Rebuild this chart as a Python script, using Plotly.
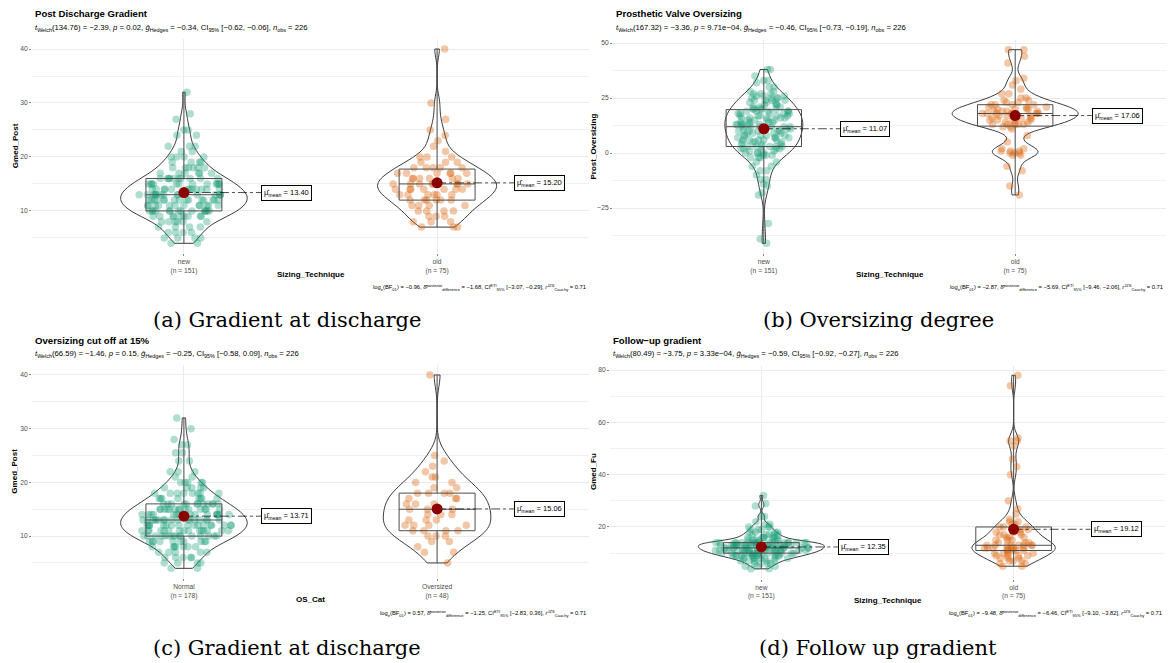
import numpy as np
import plotly.graph_objects as go

# ---------------- data ----------------
panel_titles = ["Post Discharge Gradient", "Prosthetic Valve Oversizing",
                "Oversizing cut off at 15%", "Follow\u2212up gradient"]
x_titles = ["Sizing_Technique", "Sizing_Technique", "OS_Cat", "Sizing_Technique"]
y_titles = ["Gmed_Post", "Prost_Oversizing", "Gmed_Post", "Gmed_Fu"]
categories = [["new", "old"], ["new", "old"], ["Normal", "Oversized"], ["new", "old"]]
group_sizes = [[151, 75], [151, 75], [178, 48], [151, 75]]
subfig_captions = ["(a) Gradient at discharge", "(b) Oversizing degree",
                   "(c) Gradient at discharge", "(d) Follow up gradient"]

gmed_post_new = [
    4, 4, 5, 5, 5, 5, 6, 6, 6, 6, 7, 7, 7, 7, 8, 8, 8, 8, 8, 8,
    9, 9, 9, 9, 9, 9, 9, 9, 9,
    10, 10, 10, 10, 10, 10, 10, 10, 10, 10, 10, 10, 10, 10,
    11, 11, 11, 11, 11, 11, 11, 11, 11, 11, 11, 11,
    12, 12, 12, 12, 12, 12, 12, 12, 12, 12, 12, 12, 12, 12, 12,
    13, 13, 13, 13, 13, 13, 13, 13, 13, 13, 13, 13, 13, 13, 13,
    14, 14, 14, 14, 14, 14, 14, 14, 14, 14, 14, 14,
    15, 15, 15, 15, 15, 15, 15, 15, 15, 15, 15, 15,
    16, 16, 16, 16, 16, 16, 16, 16, 16, 16,
    17, 17, 17, 17, 17, 17,
    18, 18, 18, 18, 18, 18,
    19, 19, 19, 19,
    20, 20, 20, 20,
    21, 21, 22, 22, 22, 24, 24, 25, 25, 27, 28, 32]
gmed_post_old = [
    7, 7, 7, 8, 8, 8, 9, 9, 9, 10, 10, 10, 10, 11, 11, 11, 11,
    12, 12, 12, 12, 12, 12,
    13, 13, 13, 13, 13, 13,
    14, 14, 14, 14, 14, 14, 14,
    15, 15, 15, 15, 15, 15, 15, 15,
    16, 16, 16, 16, 16, 16,
    17, 17, 17, 17, 17, 17,
    18, 18, 18, 18, 18,
    19, 19, 19, 20, 20, 20,
    21, 22, 23, 24, 25, 27, 30, 40]
oversizing_new = [
    -41, -39, -32, -19, -18, -15, -14, -12, -12, -10, -8, -8, -6, -6, -4, -4, -2, -2, -2, -1, -1, -1,
    0, 0, 0, 0, 1, 1, 1, 2, 2, 2, 2,
    3, 3, 3, 3, 3, 3, 4, 4, 4, 5, 5, 5, 5,
    6, 6, 6, 6, 6, 7, 7, 7, 7, 8, 8, 8, 8, 8,
    9, 9, 9, 9, 10, 10, 10, 10, 10, 11, 11, 11, 11,
    12, 12, 12, 12, 12, 12, 13, 13, 13, 13, 13, 13,
    14, 14, 14, 14, 15, 15, 15, 15,
    16, 16, 16, 16, 16, 17, 17, 17, 17, 17,
    18, 18, 18, 18, 18, 19, 19, 19, 19, 19, 20, 20, 20, 20, 20,
    21, 21, 21, 22, 22, 22, 23, 23, 23, 24, 24, 24, 24,
    25, 25, 25, 25, 26, 26, 26, 27, 27, 27, 28, 28,
    30, 30, 32, 33, 33, 35, 38, 38]
oversizing_old = [
    -19, -15, -8, -6, -1, -1, 0, 0, 0, 1, 1, 1, 2, 2, 5, 8, 11, 12, 12,
    13, 13, 13, 13, 13,
    14, 14, 14, 15, 15, 15, 15, 16, 16, 16, 17, 17, 17,
    18, 18, 18, 18, 18, 18, 18,
    19, 19, 19, 19, 20, 20, 20, 20, 21, 21, 21,
    22, 22, 22, 22, 23, 23, 24, 24, 25, 25, 27, 27,
    29, 31, 33, 34, 41, 44, 47, 47]
gmed_post_normal = [
    4, 4, 5, 5, 5, 5, 6, 6, 6, 6, 6, 7, 7, 7, 7, 7,
    8, 8, 8, 8, 8, 8, 8,
    9, 9, 9, 9, 9, 9, 9, 9, 9, 9,
    10, 10, 10, 10, 10, 10, 10, 10, 10, 10, 10, 10, 10, 10, 10,
    11, 11, 11, 11, 11, 11, 11, 11, 11, 11, 11, 11, 11, 11, 11,
    12, 12, 12, 12, 12, 12, 12, 12, 12, 12, 12, 12, 12, 12, 12, 12, 12,
    13, 13, 13, 13, 13, 13, 13, 13, 13, 13, 13, 13, 13, 13, 13, 13, 13,
    14, 14, 14, 14, 14, 14, 14, 14, 14, 14, 14, 14, 14, 14, 14,
    15, 15, 15, 15, 15, 15, 15, 15, 15, 15, 15, 15, 15, 15,
    16, 16, 16, 16, 16, 16, 16, 16, 16, 16, 16, 16,
    17, 17, 17, 17, 17, 17, 17, 17,
    18, 18, 18, 18, 18, 18, 18, 18,
    19, 19, 19, 19, 19, 20, 20, 20, 20, 20,
    21, 21, 22, 22, 22, 24, 24, 25.5, 25.5, 27, 27, 28, 30, 32]
gmed_post_oversized = [
    5, 7, 7, 8, 9, 9, 10, 10, 10, 11, 11, 11, 11, 12, 12, 12, 12,
    13, 13, 13, 14, 14, 14, 15, 15, 15, 15, 16, 16, 16, 17, 17, 17,
    18, 18, 18, 18, 19, 19, 20, 20, 21, 21, 22, 23, 24, 25, 40]
gmed_fu_new = [
    4, 4, 5, 5, 5, 6, 6, 6, 6, 7, 7, 7, 7, 7,
    8, 8, 8, 8, 8, 8, 8, 8,
    9, 9, 9, 9, 9, 9, 9, 9, 9, 9, 9,
    10, 10, 10, 10, 10, 10, 10, 10, 10, 10, 10, 10, 10, 10,
    11, 11, 11, 11, 11, 11, 11, 11, 11, 11, 11, 11, 11, 11, 11, 11,
    12, 12, 12, 12, 12, 12, 12, 12, 12, 12, 12, 12, 12, 12, 12, 12, 12,
    13, 13, 13, 13, 13, 13, 13, 13, 13, 13, 13, 13, 13, 13, 13, 13, 13,
    14, 14, 14, 14, 14, 14, 14, 14, 14, 14, 14, 14, 14, 14, 14, 14, 14, 14,
    15, 15, 15, 15, 15, 15, 15, 16, 16, 16, 16, 16, 16,
    17, 17, 17, 17, 17, 18, 18, 18, 18, 19, 19, 19, 20, 20, 20,
    21, 21, 22, 24, 24, 28, 29, 32]
gmed_fu_old = [
    5, 5, 6, 6, 7, 7, 7, 8, 8, 8, 9, 9, 9, 9, 10, 10, 10, 10,
    11, 11, 11, 11, 11, 12, 12, 12, 12, 12, 12, 12,
    13, 13, 13, 13, 13, 13, 13, 13,
    14, 14, 14, 15, 15, 15, 16, 16, 16, 17, 17, 17, 18, 18, 18,
    19, 19, 20, 20, 20, 21, 21, 22, 22, 23, 25, 27, 30,
    40, 43, 46, 51, 53, 53, 54, 74, 78]

groups = [[gmed_post_new, gmed_post_old], [oversizing_new, oversizing_old],
          [gmed_post_normal, gmed_post_oversized], [gmed_fu_new, gmed_fu_old]]

mean_values = [[13.40, 15.20], [11.07, 17.06], [13.71, 15.06], [12.35, 19.12]]

welch_df = ["134.76", "167.32", "66.59", "80.49"]
welch_t = ["\u22122.39", "\u22123.36", "\u22121.46", "\u22123.75"]
p_values = ["0.02", "9.71e\u221204", "0.15", "3.33e\u221204"]
hedges_g = ["\u22120.34", "\u22120.46", "\u22120.25", "\u22120.59"]
hedges_ci = [("\u22120.62", "\u22120.06"), ("\u22120.73", "\u22120.19"),
             ("\u22120.58", "0.09"), ("\u22120.92", "\u22120.27")]
n_obs = [226, 226, 226, 226]
log_bf01 = ["\u22120.96", "\u22122.87", "0.57", "\u22129.48"]
delta_post = ["\u22121.68", "\u22125.69", "\u22121.25", "\u22126.46"]
delta_ci = [("\u22123.07", "\u22120.29"), ("\u22129.46", "\u22122.06"),
            ("\u22122.83", "0.36"), ("\u22129.10", "\u22123.82")]
r_cauchy = ["0.71", "0.71", "0.71", "0.71"]

# ---------------- styles / positions ----------------
W, H = 1169, 663
FONT = "Liberation Sans, Arial, Helvetica, sans-serif"
SERIF = "DejaVu Serif, Liberation Serif, serif"
GRID = "#EBEBEB"
colors = ["#1B9E77", "#D95F02"]
plot_boxes = [(32, 39.3, 589, 253), (613, 40, 1166, 253),
              (32, 365.3, 589, 578), (610, 365.6, 1165, 578.5)]
violin_widths = [[0.5, 0.47], [0.31, 0.5], [0.5, 0.425], [0.5, 0.33]]
y_dticks = [10, 25, 10, 20]
title_y = [13, 13, 341, 341]
subtitle_y = [28, 28, 354, 354]
xtitle_y = [274, 274, 599, 600]
ytitle_x = [15, 593, 15, 593]
caption_y = [287, 287, 613, 613]
subfig_xy = [(287, 320), (878, 320), (287, 648), (878, 648)]
label_offset = 0.305


def nrd0(v):
    v = np.asarray(v, float)
    sd = v.std(ddof=1)
    q75, q25 = np.percentile(v, [75, 25])
    lo = min(sd, (q75 - q25) / 1.34)
    return 0.9 * lo * len(v) ** -0.2


fig = go.Figure()
annotations = []
layout = dict(width=W, height=H, margin=dict(l=0, r=0, t=0, b=0),
              paper_bgcolor="white", plot_bgcolor="white",
              violinmode="overlay", boxmode="overlay", showlegend=False,
              font=dict(family=FONT, color="black"), hovermode=False)


def px(x):
    return x / W


def py(y):
    return 1 - y / H


for i in range(4):
    sfx = "" if i == 0 else str(i + 1)
    xr, yr = "x" + sfx, "y" + sfx
    l, t, r, b = plot_boxes[i]
    for g in range(2):
        vals = groups[i][g]
        fig.add_trace(go.Violin(
            x0=g, y=vals, xaxis=xr, yaxis=yr, width=violin_widths[i][g],
            scalemode="width", spanmode="hard", bandwidth=nrd0(vals),
            line=dict(color="#262626", width=0.9), fillcolor="rgba(0,0,0,0)",
            points="all", jitter=0.75, pointpos=0,
            marker=dict(color=colors[g], opacity=0.35, size=7.5, line=dict(width=0)),
            hoverinfo="skip", showlegend=False))
        fig.add_trace(go.Box(
            x0=g, y=vals, xaxis=xr, yaxis=yr, width=0.3, boxpoints=False,
            whiskerwidth=0, fillcolor="rgba(0,0,0,0)",
            line=dict(color="#4d4d4d", width=1), hoverinfo="skip", showlegend=False))
    for g in range(2):
        m = mean_values[i][g]
        fig.add_trace(go.Scatter(
            x=[g, g + label_offset], y=[m, m], xaxis=xr, yaxis=yr, mode="lines",
            line=dict(color="black", width=0.7, dash="dashdot"),
            hoverinfo="skip", showlegend=False))
        fig.add_trace(go.Scatter(
            x=[g], y=[m], xaxis=xr, yaxis=yr, mode="markers",
            marker=dict(color="#8B0000", size=11), hoverinfo="skip", showlegend=False))
        annotations.append(dict(
            x=g + label_offset, y=m, xref=xr, yref=yr, xanchor="left", yanchor="middle",
            text=f"\u03bc\u0302<sub>mean</sub> = {m:.2f}", showarrow=False,
            font=dict(size=7.5, color="black"), bgcolor="white",
            bordercolor="black", borderwidth=1, borderpad=2))

    allv = groups[i][0] + groups[i][1]
    lo, hi = min(allv), max(allv)
    pad = 0.05 * (hi - lo)
    ticktext = [f"{categories[i][g]}<br>(n = {group_sizes[i][g]})" for g in range(2)]
    layout["xaxis" + sfx] = dict(
        domain=[px(l), px(r)], anchor=yr, type="linear", range=[-0.6, 1.6],
        tickmode="array", tickvals=[0, 1], ticktext=ticktext,
        showgrid=True, gridcolor=GRID, gridwidth=1, zeroline=False, showline=False,
        ticks="outside", ticklen=2, tickwidth=0.6, tickcolor="#333333",
        tickfont=dict(size=6.7, color="#4D4D4D"), fixedrange=True)
    layout["yaxis" + sfx] = dict(
        domain=[py(b), py(t)], anchor=xr, type="linear", range=[lo - pad, hi + pad],
        tick0=0, dtick=y_dticks[i], showgrid=True, gridcolor=GRID, gridwidth=1,
        minor=dict(tick0=0, dtick=y_dticks[i] / 2, showgrid=True, gridcolor=GRID, gridwidth=0.7),
        zeroline=False, showline=False, ticks="outside", ticklen=2, tickwidth=0.6,
        tickcolor="#333333", tickfont=dict(size=6.7, color="#4D4D4D"), fixedrange=True)

    # titles and texts
    annotations.append(dict(x=px(l + 1), y=py(title_y[i]), xref="paper", yref="paper",
                            xanchor="left", yanchor="middle", showarrow=False,
                            text=f"<b>{panel_titles[i]}</b>", font=dict(size=9.6)))
    ci_lo, ci_hi = hedges_ci[i]
    subtitle = (f"<i>t</i><sub>Welch</sub>({welch_df[i]}) = {welch_t[i]}, <i>p</i> = {p_values[i]}, "
                f"<i>g\u0302</i><sub>Hedges</sub> = {hedges_g[i]}, CI<sub>95%</sub> [{ci_lo}, {ci_hi}], "
                f"<i>n</i><sub>obs</sub> = {n_obs[i]}")
    annotations.append(dict(x=px(l + 1), y=py(subtitle_y[i]), xref="paper", yref="paper",
                            xanchor="left", yanchor="middle", showarrow=False,
                            text=subtitle, font=dict(size=7.7)))
    d_lo, d_hi = delta_ci[i]
    caption = (f"log<sub>e</sub>(BF<sub>01</sub>) = {log_bf01[i]}, "
               f"\u03b4\u0302<sup>posterior</sup><sub>difference</sub> = {delta_post[i]}, "
               f"CI<sup>ETI</sup><sub>95%</sub> [{d_lo}, {d_hi}], "
               f"<i>r</i><sup>JZS</sup><sub>Cauchy</sub> = {r_cauchy[i]}")
    annotations.append(dict(x=px(r - 1), y=py(caption_y[i]), xref="paper", yref="paper",
                            xanchor="right", yanchor="middle", showarrow=False,
                            text=caption, font=dict(size=5.8)))
    annotations.append(dict(x=px((l + r) / 2), y=py(xtitle_y[i]), xref="paper", yref="paper",
                            xanchor="center", yanchor="middle", showarrow=False,
                            text=f"<b>{x_titles[i]}</b>", font=dict(size=8)))
    annotations.append(dict(x=px(ytitle_x[i]), y=py((t + b) / 2), xref="paper", yref="paper",
                            xanchor="center", yanchor="middle", showarrow=False, textangle=-90,
                            text=f"<b>{y_titles[i]}</b>", font=dict(size=8)))
    sx, sy = subfig_xy[i]
    annotations.append(dict(x=px(sx), y=py(sy), xref="paper", yref="paper",
                            xanchor="center", yanchor="middle", showarrow=False,
                            text=subfig_captions[i], font=dict(size=21, family=SERIF)))

layout["annotations"] = annotations
fig.update_layout(**layout)
fig.write_html("out.html", config={"displayModeBar": False, "staticPlot": True},
               post_script="document.body.style.margin='0';")
